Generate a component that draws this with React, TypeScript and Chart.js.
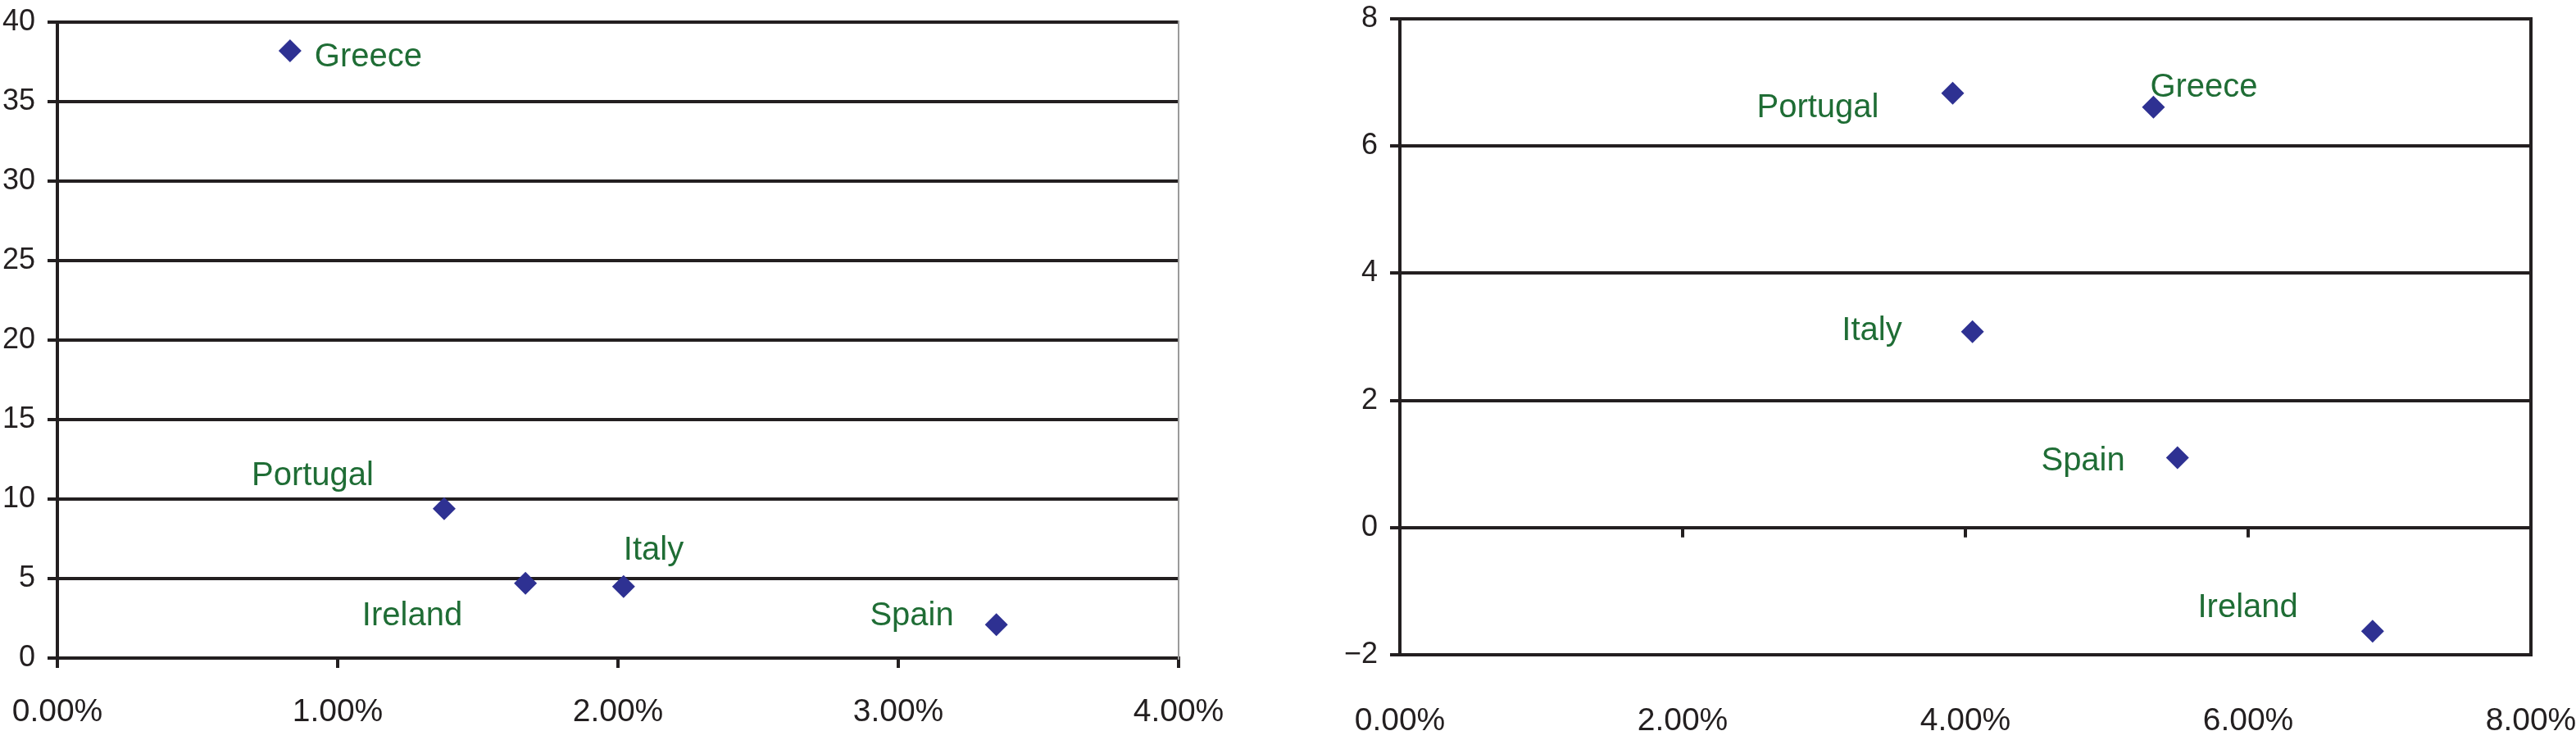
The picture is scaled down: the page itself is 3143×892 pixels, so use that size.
import React, { useEffect, useRef } from 'react';
import { Chart, registerables } from 'chart.js';

Chart.register(...registerables);

// ---- Left panel data ----
const countriesA = ['Greece', 'Portugal', 'Ireland', 'Italy', 'Spain'];
const xA = [0.83, 1.38, 1.67, 2.02, 3.35];
const yA = [38.2, 9.4, 4.7, 4.5, 2.1];
// label offsets (pixels from the point) and alignment
const labelDxA = [30, -86, -77, 0, -52];
const labelDyA = [19, -29, 51, -33, 1];
const labelAlignA = ['left', 'right', 'right', 'left', 'right'];

// ---- Right panel data ----
const countriesB = ['Portugal', 'Greece', 'Italy', 'Spain', 'Ireland'];
const xB = [3.91, 5.33, 4.05, 5.5, 6.88];
const yB = [6.83, 6.61, 3.08, 1.1, -1.63];
const labelDxB = [-90, -4, -86, -64, -91];
const labelDyB = [29, -13, 10, 16, -17];
const labelAlignB = ['right', 'left', 'right', 'right', 'right'];

const FONT = '"Liberation Sans", Arial, Helvetica, sans-serif';
const INK = '#231f20';
const MARKER = '#2e3192';
const LABEL_GREEN = '#1f6d35';
const LINE_W = 4;

const pointLabelPlugin = {
  id: 'pointLabels',
  afterDatasetsDraw(chart: any, _args: any, opts: any) {
    const meta = chart.getDatasetMeta(0);
    const ctx = chart.ctx;
    ctx.save();
    ctx.font = `40px ${FONT}`;
    ctx.fillStyle = LABEL_GREEN;
    ctx.textBaseline = 'alphabetic';
    meta.data.forEach((pt: any, i: number) => {
      ctx.textAlign = opts.align[i];
      ctx.fillText(opts.names[i], pt.x + opts.dx[i], pt.y + opts.dy[i]);
    });
    ctx.restore();
  },
};

const framePlugin = {
  id: 'frame',
  beforeDatasetsDraw(chart: any, _args: any, opts: any) {
    const { ctx, chartArea: a } = chart;
    ctx.save();
    ctx.strokeStyle = opts.rightColor;
    ctx.lineWidth = opts.rightWidth;
    ctx.beginPath();
    ctx.moveTo(a.right, a.top - 2);
    ctx.lineTo(a.right, a.bottom + 2);
    ctx.stroke();
    if (opts.zeroTicks) {
      const xs = chart.scales.x;
      const ys = chart.scales.y;
      const y0 = ys.getPixelForValue(0);
      ctx.strokeStyle = INK;
      ctx.lineWidth = LINE_W;
      ctx.beginPath();
      xs.ticks.forEach((t: any) => {
        const px = xs.getPixelForValue(t.value);
        ctx.moveTo(px, y0);
        ctx.lineTo(px, y0 + opts.tickLen);
      });
      ctx.stroke();
    }
    ctx.restore();
  },
};

function pctLabel(v: any) {
  return Number(v).toFixed(2) + '%';
}
function yLabel(v: any) {
  const n = Number(v);
  return n < 0 ? '\u2212' + Math.abs(n) : String(n);
}

type PanelProps = {
  width: number;
  height: number;
  names: string[];
  xs: number[];
  ys: number[];
  dx: number[];
  dy: number[];
  align: string[];
  xMin: number;
  xMax: number;
  xStep: number;
  yMin: number;
  yMax: number;
  yStep: number;
  yAxisWidth: number;
  xAxisHeight: number;
  padTop: number;
  padRight: number;
  xTickMarksAtBottom: boolean;
  xLabelPadding: number;
  rightColor: string;
  rightWidth: number;
};

function Panel(p: PanelProps) {
  const ref = useRef<HTMLCanvasElement | null>(null);
  useEffect(() => {
    if (!ref.current) return;
    const data = p.xs.map((x, i) => ({ x, y: p.ys[i] }));
    const chart = new Chart(ref.current, {
      type: 'scatter',
      data: {
        datasets: [
          {
            data,
            pointStyle: 'rectRot',
            pointRadius: 14,
            pointHoverRadius: 14,
            backgroundColor: MARKER,
            borderColor: MARKER,
            borderWidth: 0,
          },
        ],
      },
      plugins: [framePlugin, pointLabelPlugin],
      options: {
        animation: false,
        responsive: false,
        devicePixelRatio: 1,
        layout: { padding: { top: p.padTop, right: p.padRight, left: 0, bottom: 0 } },
        plugins: {
          legend: { display: false },
          tooltip: { enabled: false },
          pointLabels: { names: p.names, dx: p.dx, dy: p.dy, align: p.align },
          frame: {
            rightColor: p.rightColor,
            rightWidth: p.rightWidth,
            zeroTicks: !p.xTickMarksAtBottom,
            tickLen: 12,
          },
        } as any,
        scales: {
          x: {
            type: 'linear',
            min: p.xMin,
            max: p.xMax,
            ticks: {
              stepSize: p.xStep,
              callback: pctLabel,
              color: INK,
              font: { family: FONT, size: 39 },
              padding: p.xLabelPadding,
              maxRotation: 0,
              autoSkip: false,
            },
            grid: {
              display: p.xTickMarksAtBottom,
              drawOnChartArea: false,
              drawTicks: true,
              tickLength: 12,
              color: INK,
              lineWidth: LINE_W,
            },
            border: { display: p.xTickMarksAtBottom, color: INK, width: LINE_W },
            afterFit: (s: any) => {
              s.height = p.xAxisHeight;
              s.paddingLeft = 0;
              s.paddingRight = 0;
            },
          },
          y: {
            type: 'linear',
            min: p.yMin,
            max: p.yMax,
            ticks: {
              stepSize: p.yStep,
              callback: yLabel,
              color: INK,
              font: { family: FONT, size: 36 },
              padding: 15,
            },
            grid: {
              display: true,
              drawTicks: true,
              tickLength: 12,
              color: INK,
              lineWidth: LINE_W,
            },
            border: { display: true, color: INK, width: LINE_W },
            afterFit: (s: any) => {
              s.width = p.yAxisWidth;
              s.paddingTop = 0;
              s.paddingBottom = 0;
            },
          },
        },
      } as any,
    });
    return () => chart.destroy();
  }, []);
  return <canvas ref={ref} width={p.width} height={p.height} style={{ display: 'block', width: p.width, height: p.height }} />;
}

export default function App() {
  return (
    <div style={{ position: 'fixed', left: 0, top: 0, width: 3143, height: 892, background: '#fff', overflow: 'hidden' }}>
      <div style={{ position: 'absolute', left: 0, top: 0 }}>
        <Panel
          width={1560}
          height={892}
          names={countriesA}
          xs={xA}
          ys={yA}
          dx={labelDxA}
          dy={labelDyA}
          align={labelAlignA}
          xMin={0}
          xMax={4}
          xStep={1}
          yMin={0}
          yMax={40}
          yStep={5}
          yAxisWidth={70}
          xAxisHeight={89}
          padTop={27}
          padRight={122}
          xTickMarksAtBottom={true}
          xLabelPadding={31}
          rightColor="#9a9a9a"
          rightWidth={2}
        />
      </div>
      <div style={{ position: 'absolute', left: 1580, top: 0 }}>
        <Panel
          width={1563}
          height={892}
          names={countriesB}
          xs={xB}
          ys={yB}
          dx={labelDxB}
          dy={labelDyB}
          align={labelAlignB}
          xMin={0}
          xMax={8}
          xStep={2}
          yMin={-2}
          yMax={8}
          yStep={2}
          yAxisWidth={128}
          xAxisHeight={93}
          padTop={23}
          padRight={55}
          xTickMarksAtBottom={false}
          xLabelPadding={46}
          rightColor={INK}
          rightWidth={LINE_W}
        />
      </div>
    </div>
  );
}
